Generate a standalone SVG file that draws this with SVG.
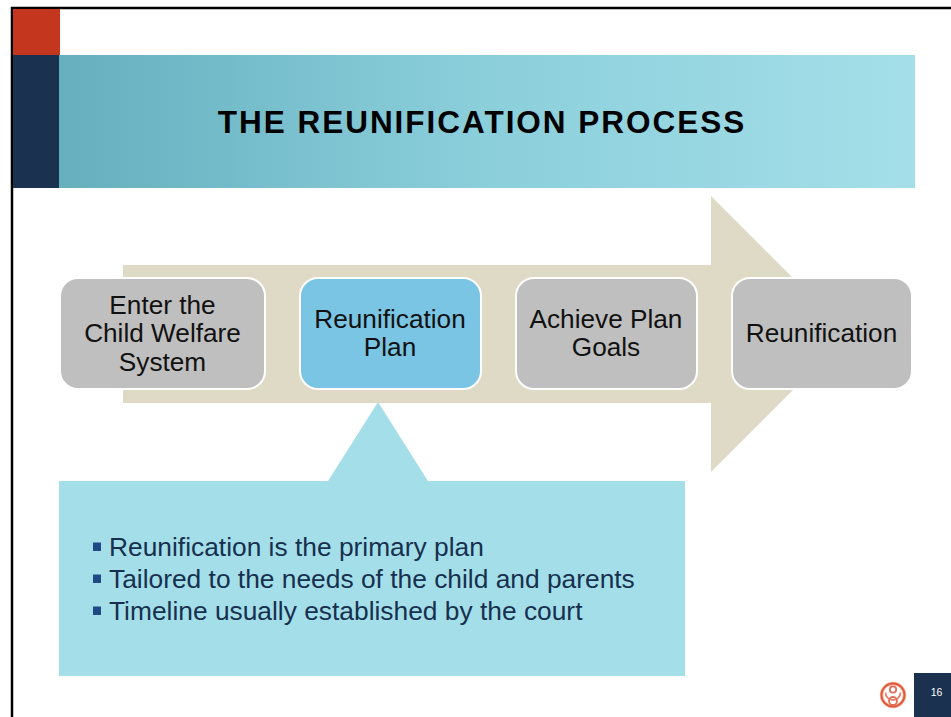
<svg xmlns="http://www.w3.org/2000/svg" width="951" height="717" viewBox="0 0 951 717">
<style>
text{font-family:"Liberation Sans",Arial,sans-serif}
.n{fill:#bfbfbf;stroke:#fff;stroke-width:2}
.l{font-size:26.2px;fill:#111;text-anchor:middle}
.b{font-size:26.35px;fill:#17304f}
.s{fill:#1f4a85}
</style>
<defs><linearGradient id="g" x1="0" x2="1" y1="0" y2="0"><stop offset="0" stop-color="#66afbf"/><stop offset="0.5" stop-color="#8bcfdb"/><stop offset="1" stop-color="#a4dfe9"/></linearGradient></defs>
<rect width="951" height="717" fill="#fff"/>
<path d="M12 717V8H951" fill="none" stroke="#000" stroke-width="2.5"/>
<rect x="13" y="9" width="47" height="46" fill="#c4361e"/>
<rect x="13" y="55" width="46" height="133" fill="#1a3250"/>
<rect x="59" y="55" width="856" height="133" fill="url(#g)"/>
<text x="482" y="133" font-size="31.5" font-weight="700" letter-spacing="1.98" text-anchor="middle" fill="#000">THE REUNIFICATION PROCESS</text>
<path d="M123 265H711V196L849 334L711 472V403H123Z" fill="#dedac5"/>
<g id="node-enter"><rect class="n" x="60" y="278" width="205" height="111" rx="18"/><text class="l" x="162.500" y="314">Enter the</text><text class="l" x="162.500" y="342">Child Welfare</text><text class="l" x="162.500" y="371">System</text></g>
<g id="node-plan"><rect x="300" y="278" width="181" height="111" rx="18" fill="#7ac5e3" stroke="#fff" stroke-width="2"/><text class="l" x="390" y="328">Reunification</text><text class="l" x="390" y="356">Plan</text></g>
<g id="node-goals"><rect class="n" x="516" y="278" width="181" height="111" rx="18"/><text class="l" x="606" y="328">Achieve Plan</text><text class="l" x="606" y="356">Goals</text></g>
<g id="node-reunification"><rect class="n" x="732" y="278" width="180" height="111" rx="18"/><text class="l" x="821.500" y="342">Reunification</text></g>
<g id="callout"><path d="M59 481H328L378 402L428 481H685V676H59Z" fill="#a4dfe9"/>
<rect class="s" x="93" y="542.500" width="8" height="8.500"/><text class="b" x="109" y="556">Reunification is the primary plan</text>
<rect class="s" x="93" y="574.500" width="8" height="8.500"/><text class="b" x="109" y="588">Tailored to the needs of the child and parents</text>
<rect class="s" x="93" y="606.500" width="8" height="8.500"/><text class="b" x="109" y="620">Timeline usually established by the court</text></g>
<g id="logo" fill="none"><circle cx="893" cy="695" r="11.500" stroke="#f3b49c" stroke-width="3.500"/><circle cx="893" cy="695" r="11.500" stroke="#e0573a" stroke-width="1.800"/><circle cx="893" cy="689.500" r="3.200" stroke="#e0705a" stroke-width="1.800"/><path d="M885.500 692.500a7.500 7.500 0 0 0 15 0" stroke="#e8846c" stroke-width="1.800"/><circle cx="893" cy="701" r="4" stroke="#e0705a" stroke-width="1.800"/></g>
<rect x="914" y="673" width="37" height="44" fill="#1a3250"/>
<text x="936.500" y="696" font-size="10.500" text-anchor="middle" fill="#fff">16</text>
<g id="connectors"></g>
</svg>
